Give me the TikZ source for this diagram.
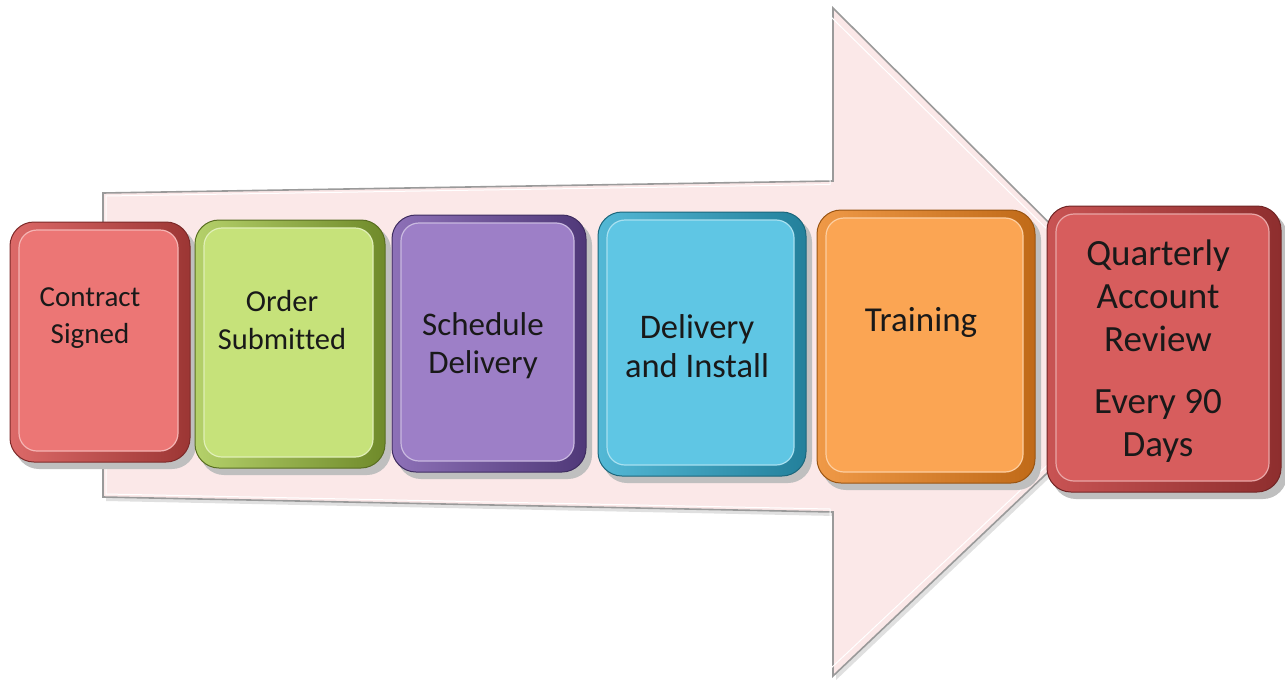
\documentclass[tikz,border=0pt]{standalone}
\usepackage{fontspec}
\setmainfont{Carlito}[RawFeature={-liga}]
\definecolor{arrowfill}{HTML}{FBE8E8}
\definecolor{arrowline}{HTML}{9A9A9A}
\definecolor{redA}{HTML}{EC7675}\definecolor{redAd}{HTML}{9C3634}
\definecolor{grnA}{HTML}{C6E27A}\definecolor{grnAd}{HTML}{6F8A2A}
\definecolor{purA}{HTML}{9D7FC7}\definecolor{purAd}{HTML}{4F3878}
\definecolor{cyaA}{HTML}{5FC6E4}\definecolor{cyaAd}{HTML}{23809B}
\definecolor{orgA}{HTML}{FBA553}\definecolor{orgAd}{HTML}{C06A18}
\definecolor{redB}{HTML}{D75D5D}\definecolor{redBd}{HTML}{8E2E2E}
\newcommand\bevbox[7]{%
  \fill[black!25, rounded corners=24] (#2+5,#3+6) rectangle (#4+6,#5+7);
  \draw[#7!80!black, line width=1, shading=axis, shading angle=45, left color=#6!80!#7, right color=#7, rounded corners=24]
    (#2,#3) rectangle (#4,#5);
  \fill[#6, rounded corners=18] (#2+9,#3+8) rectangle (#4-12,#5-11);
  \draw[#6!55!white, line width=1.2, rounded corners=18] (#2+9,#3+8) rectangle (#4-12,#5-11);
  \coordinate (#1) at ({(#2+#4)/2},{(#3+#5)/2});
}
\tikzset{
  lbl/.style={align=center, text=black!90, inner sep=0pt},
  bigarrow/.style={fill=arrowfill, draw=arrowline, line width=1.6, line join=miter},
}
\begin{document}
\begin{tikzpicture}[x=1pt, y=-1pt]
\useasboundingbox (0,0) rectangle (1285,680);
% big arrow
\fill[black!12] (106,197) -- (836,185) -- (836,12) -- (1180,354) -- (836,680) -- (836,516) -- (106,501) -- cycle;
\draw[bigarrow] (103,193) coordinate (a1) -- (833,181) coordinate (a2) -- (833,8) coordinate (a3)
  -- (1177,350) coordinate (tip) -- (833,676) coordinate (a5) -- (833,512) coordinate (a6)
  -- (103,497) coordinate (a7) -- cycle;
\draw[white, line width=1] (106,196) -- (830,184.5) -- (830,16) -- (1170,350) -- (830,669) -- (830,509) -- (106,494) -- cycle;
% boxes
\bevbox{b1}{10}{222}{190}{462}{redA}{redAd}
\bevbox{b2}{195}{220}{385}{468}{grnA}{grnAd}
\bevbox{b3}{392}{215}{586}{472}{purA}{purAd}
\bevbox{b4}{598}{212}{806}{476}{cyaA}{cyaAd}
\bevbox{b5}{817}{210}{1035}{483}{orgA}{orgAd}
\bevbox{b6}{1047}{206}{1281}{492}{redB}{redBd}
% labels
\node[lbl, font=\fontsize{29}{37}\selectfont] (t1) at (90,318) {Contract\\Signed};
\node[lbl, font=\fontsize{30.5}{38}\selectfont] (t2) at (282,320) {Order\\Submitted};
\node[lbl, font=\fontsize{33}{38}\selectfont] (t3) at (483,346) {Schedule\\Delivery};
\node[lbl, font=\fontsize{34.5}{39}\selectfont] (t4) at (697,346) {Delivery\\and Install};
\node[lbl, font=\fontsize{35}{40}\selectfont] (t5) at (921,322) {Training};
\node[lbl, font=\fontsize{37}{43}\selectfont] (t6) at (1158,351) {Quarterly\\Account\\Review\\[19pt]Every 90\\Days};
\end{tikzpicture}
\end{document}
